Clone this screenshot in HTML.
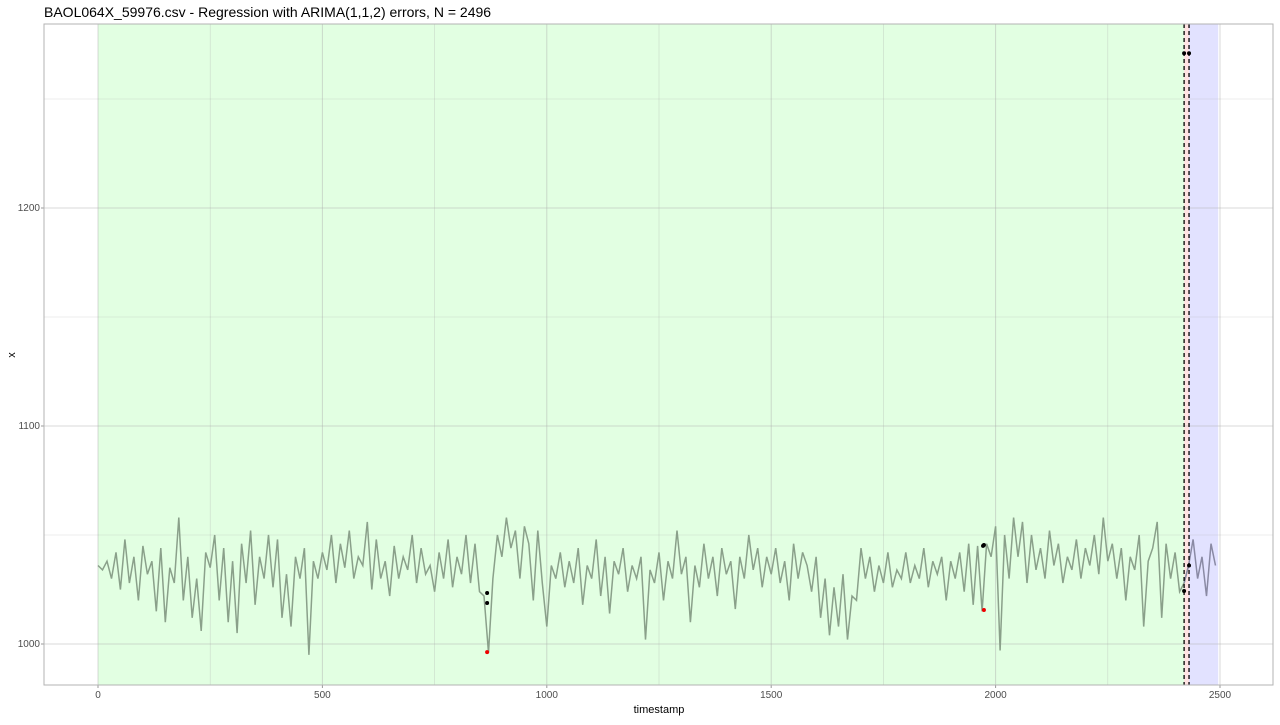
<!DOCTYPE html>
<html><head><meta charset="utf-8"><style>
body{margin:0;background:#fff;font-family:"Liberation Sans",sans-serif}
</style></head><body>
<svg width="1280" height="720" xmlns="http://www.w3.org/2000/svg" id="svg">
<text x="44" y="17" font-size="14" fill="#000">BAOL064X_59976.csv - Regression with ARIMA(1,1,2) errors, N = 2496</text>
<text x="659" y="713" font-size="11" text-anchor="middle">timestamp</text>
<text x="15" y="355" font-size="11" text-anchor="middle" transform="rotate(-90 15 355)">x</text>
<g id="plot"></g>
</svg>
<script>
const xTicks=[0,500,1000,1500,2000,2500];
const yTicks=[1000,1100,1200];
const regions=[{from:0,to:2420,color:"rgba(160,255,160,0.3)"},{from:2420,to:2431,color:"rgba(255,160,160,0.3)"},{from:2431,to:2496,color:"rgba(160,160,255,0.3)"}];
const changepoints=[2420,2431];
const step=10;
const values=[1036,1034,1038,1030,1042,1025,1048,1028,1040,1020,
1045,1032,1038,1015,1044,1010,1035,1028,1058,1020,
1040,1012,1030,1006,1042,1035,1050,1020,1044,1010,
1038,1005,1046,1028,1052,1018,1040,1030,1050,1026,
1048,1012,1032,1008,1040,1030,1044,995,1038,1030,
1042,1034,1050,1028,1046,1035,1052,1030,1040,1036,
1056,1025,1048,1030,1038,1022,1045,1030,1040,1034,
1050,1028,1044,1032,1036,1024,1042,1030,1048,1026,
1040,1032,1050,1028,1046,1024,1022,996,1030,1050,
1040,1058,1044,1052,1030,1054,1046,1020,1052,1028,
1008,1036,1030,1042,1026,1038,1028,1044,1018,1036,
1030,1048,1022,1040,1014,1038,1032,1044,1024,1036,
1030,1040,1002,1034,1028,1042,1020,1038,1030,1052,
1032,1040,1010,1036,1026,1046,1030,1040,1022,1044,
1032,1038,1016,1040,1030,1050,1034,1044,1026,1040,
1032,1044,1028,1038,1020,1046,1030,1042,1036,1024,
1040,1012,1030,1004,1026,1008,1032,1002,1022,1020,
1044,1030,1040,1024,1036,1028,1042,1026,1034,1030,
1042,1028,1036,1030,1044,1026,1038,1032,1040,1020,
1038,1030,1042,1024,1046,1018,1045,1015,1046,1040,
1054,997,1050,1030,1058,1040,1056,1028,1050,1034,
1044,1030,1052,1036,1046,1028,1040,1034,1048,1030,
1044,1036,1050,1032,1058,1038,1046,1030,1044,1020,
1040,1034,1050,1008,1038,1044,1056,1012,1046,1030,
1042,1024,1028,1036,1048,1030,1040,1022,1046,1036];
const blackPts=[[867,1023.4],[867,1018.8],[1974,1045.4],[1972,1045],[2420,1024.3],[2431,1036],[2420,1271],[2431,1271]];
const redPts=[[867,996.3],[1974,1015.6]];

const L=44,R=1273,T=24,B=685;
const X=v=>98+v*0.4488;
const Y=v=>644-(v-1000)*2.18;
const ns="http://www.w3.org/2000/svg";
const g=document.getElementById('plot');
function mk(tag,attrs){const e=document.createElementNS(ns,tag);for(const k in attrs)e.setAttribute(k,attrs[k]);g.appendChild(e);return e;}
let e;
e=mk('rect',{x:L,y:T,width:R-L,height:B-T,fill:'#fff'});


regions.forEach(r=>{e=mk('rect',{x:X(r.from),y:T,width:X(r.to)-X(r.from),height:B-T,fill:r.color});

});
for(let v=-250;v<=2750;v+=250){const x=X(v);if(x<L||x>R)continue;
e=mk('line',{x1:x,x2:x,y1:T,y2:B,stroke:'rgba(170,170,170,0.45)','stroke-width':v%500?0.6:1});

}
for(let v=950;v<=1300;v+=50){const y=Y(v);if(y<T||y>B)continue;
e=mk('line',{x1:L,x2:R,y1:y,y2:y,stroke:'rgba(170,170,170,0.45)','stroke-width':v%100?0.6:1});

}
xTicks.forEach(v=>{e=mk('text',{x:X(v),y:B+13,'font-size':10,'text-anchor':'middle',fill:'#4d4d4d'});e.textContent=v;


mk('line',{x1:X(v),x2:X(v),y1:B,y2:B+3,stroke:'#999'});});
yTicks.forEach(v=>{e=mk('text',{x:L-4,y:Y(v)+3,'font-size':10,'text-anchor':'end',fill:'#4d4d4d'});e.textContent=v;


mk('line',{x1:L-3,x2:L,y1:Y(v),y2:Y(v),stroke:'#999'});});
let p1='',p2='';
values.forEach((v,i)=>{const t=i*step;const s=X(t).toFixed(1)+','+Y(v).toFixed(1);
if(t<=2430)p1+=(p1?' L':'M')+s;if(t>=2420)p2+=(p2?' L':'M')+s;});
e=mk('path',{d:p1,fill:'none',stroke:'#8aa08a','stroke-width':1.5});


e=mk('path',{d:p2,fill:'none',stroke:'#8a8aa4','stroke-width':1.5});


changepoints.forEach(c=>{e=mk('line',{x1:X(c),x2:X(c),y1:T,y2:B,stroke:'#000','stroke-width':1.3,'stroke-dasharray':'4,3'});

});
blackPts.forEach(p=>{e=mk('circle',{cx:X(p[0]),cy:Y(p[1]),r:2,fill:'#000'});

});
redPts.forEach(p=>{e=mk('circle',{cx:X(p[0]),cy:Y(p[1]),r:2,fill:'#e00'});

});
e=mk('rect',{x:L,y:T,width:R-L,height:B-T,fill:'none',stroke:'#b3b3b3','stroke-width':1});


</script>
</body></html>
